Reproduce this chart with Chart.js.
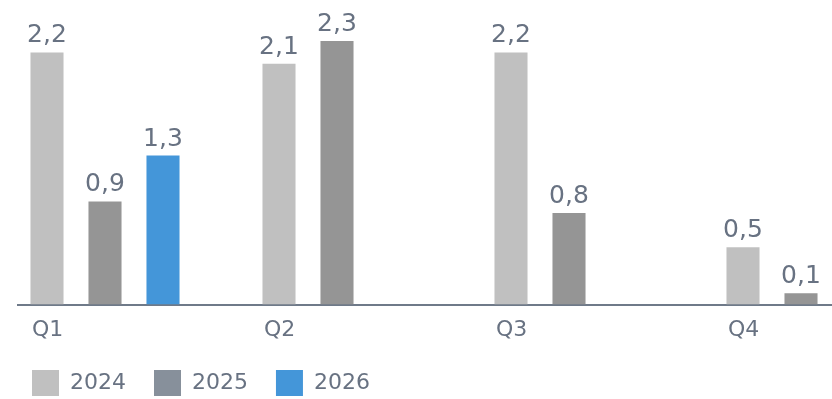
<!DOCTYPE html>
<html>
<head>
<meta charset="utf-8">
<script src="https://cdn.jsdelivr.net/npm/chart.js@4.4.1/dist/chart.umd.min.js"></script>
<style>
    html, body { margin: 0; padding: 0; background: #fff; overflow: hidden; width: 832px; height: 399px; }
    /* the source chart is cut off on the right, so the canvas is wider than the window */
    #wrap { width: 960px; height: 399px; }
</style>
</head>
<body>
<div id="wrap"><canvas id="chart" width="960" height="399"></canvas></div>
<script>
    var quarters   = ['Q1', 'Q2', 'Q3', 'Q4'];
    var years      = ['2024', '2025', '2026'];
    var values2024 = [2.2, 2.1, 2.2, 0.5];
    var values2025 = [0.9, 2.3, 0.8, 0.1];
    var values2026 = [1.3, null, null, null];

    var BAR_COLOURS    = ['#c0c0c0', '#959595', '#4496d9'];
    var LEGEND_COLOURS = ['#c0c0c0', '#87909b', '#4496d9'];
    var TEXT_COLOUR    = '#687282';
    var AXIS_COLOUR    = '#6f7a89';

    Chart.defaults.font.family = '"DejaVu Sans", sans-serif';
    Chart.defaults.color = TEXT_COLOUR;

    // value labels above each bar, decimal comma
    var valueLabels = {
        id: 'valueLabels',
        afterDatasetsDraw: function (chart) {
            var ctx = chart.ctx;
            ctx.save();
            ctx.font = '25px "DejaVu Sans", sans-serif';
            ctx.fillStyle = TEXT_COLOUR;
            ctx.textAlign = 'center';
            ctx.textBaseline = 'alphabetic';
            chart.data.datasets.forEach(function (ds, i) {
                var meta = chart.getDatasetMeta(i);
                meta.data.forEach(function (bar, j) {
                    var v = ds.data[j];
                    if (v === null || v === undefined) return;
                    ctx.fillText(v.toFixed(1).replace('.', ','), bar.x, bar.y - 10);
                });
            });
            ctx.restore();
        }
    };

    var seriesValues = [values2024, values2025, values2026];
    var datasets = years.map(function (y, i) {
        return {
            label: y,
            data: seriesValues[i],
            backgroundColor: BAR_COLOURS[i],
            barPercentage: 0.57,
            categoryPercentage: 1.0,
        };
    });
    // empty fourth slot, the source leaves room for one more series per quarter
    datasets.push({ label: '', data: [null, null, null, null], barPercentage: 0.57, categoryPercentage: 1.0 });

    new Chart(document.getElementById('chart').getContext('2d'), {
        type: 'bar',
        data: { labels: quarters, datasets: datasets },
        options: {
            responsive: false,
            animation: false,
            layout: { padding: { left: 18, right: 14, top: 18, bottom: -7 } },
            plugins: {
                tooltip: { enabled: false },
                legend: {
                    position: 'bottom',
                    align: 'start',
                    labels: {
                        boxWidth: 27,
                        boxHeight: 26,
                        padding: 14,
                        font: { size: 22 },
                        color: TEXT_COLOUR,
                        generateLabels: function (chart) {
                            return years.map(function (y, i) {
                                return {
                                    text: y + '  ',
                                    fillStyle: LEGEND_COLOURS[i],
                                    strokeStyle: LEGEND_COLOURS[i],
                                    lineWidth: 0,
                                    fontColor: TEXT_COLOUR,
                                    datasetIndex: i,
                                };
                            });
                        },
                    },
                },
            },
            scales: {
                x: {
                    grid: { display: false },
                    border: { display: true, color: AXIS_COLOUR, width: 2 },
                    ticks: {
                        align: 'start',
                        labelOffset: -102,
                        padding: 4,
                        font: { size: 22 },
                        color: TEXT_COLOUR,
                    },
                    afterFit: function (scale) { scale.height += 9; },
                },
                y: {
                    display: false,
                    min: 0,
                    max: 2.5,
                },
            },
        },
        plugins: [valueLabels],
    });
</script>
</body>
</html>
